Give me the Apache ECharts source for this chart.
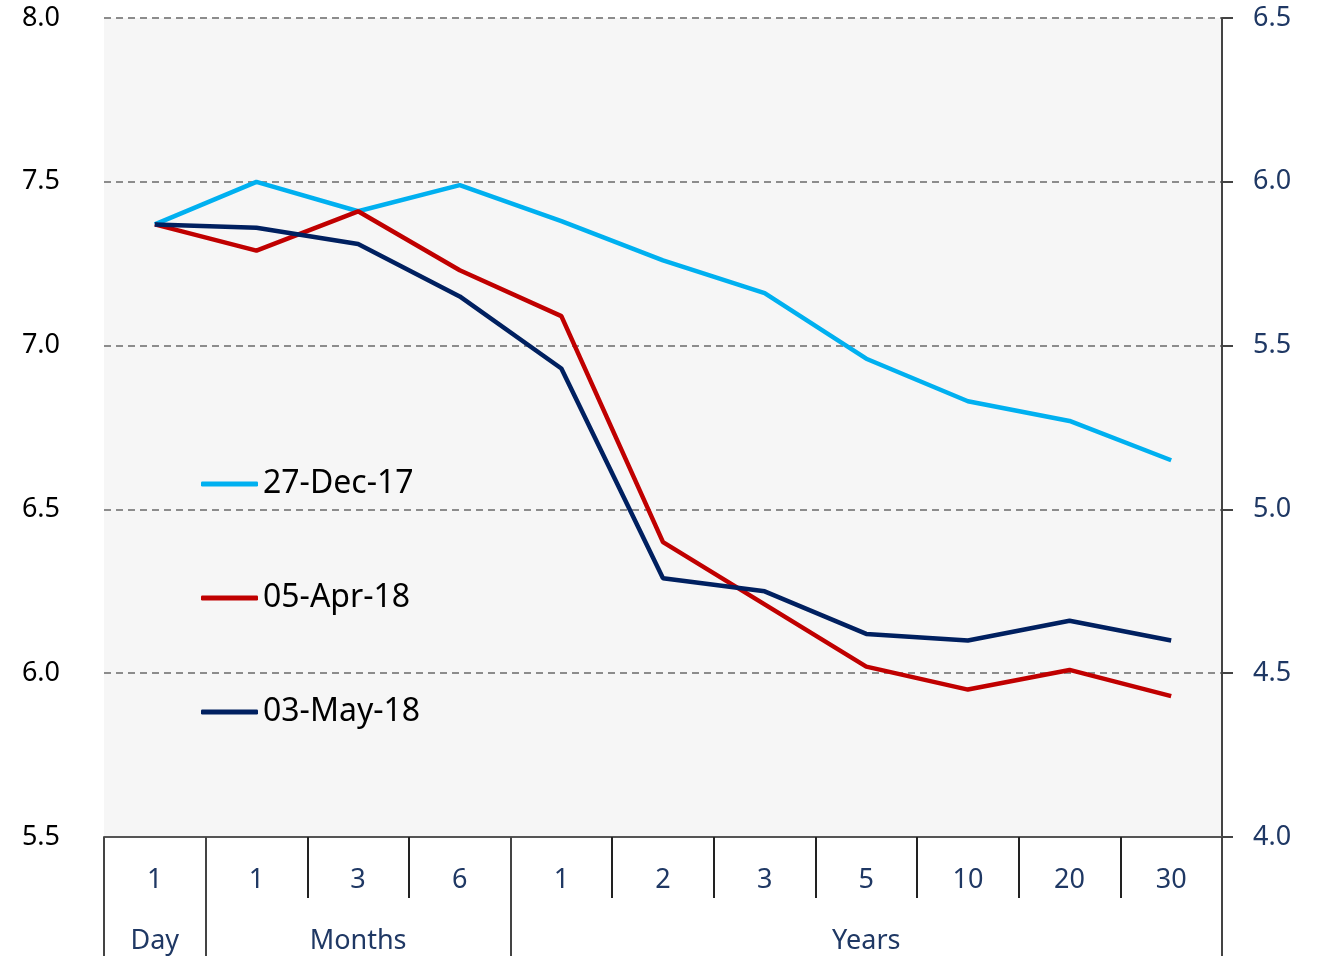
<!DOCTYPE html>
<html>
<head>
	<meta charset="utf-8">
	<title>Yield curve</title>
	<script src="https://cdn.jsdelivr.net/npm/echarts@6/dist/echarts.min.js"></script>
	<style>
		html, body { margin: 0; padding: 0; background: #fff; }
	</style>
</head>
<body>
	<div id="main" style="width: 1317px; height: 956px;"></div>
	<script type="text/javascript">
		// tenors (first row) and group labels (second row)
		var tenors = ['1', '1', '3', '6', '1', '2', '3', '5', '10', '20', '30'];
		var groups = ['Day', '', 'Months', '', '', '', '', 'Years', '', '', ''];
		// group boundaries (index of first category in each group)
		var groupStarts = [0, 1, 4];

		var seriesNames = ['27-Dec-17', '05-Apr-18', '03-May-18'];
		var dec17 = [7.37, 7.50, 7.41, 7.49, 7.38, 7.26, 7.16, 6.96, 6.83, 6.77, 6.65];
		var apr18 = [7.37, 7.29, 7.41, 7.23, 7.09, 6.40, 6.21, 6.02, 5.95, 6.01, 5.93];
		var may18 = [7.37, 7.36, 7.31, 7.15, 6.93, 6.29, 6.25, 6.12, 6.10, 6.16, 6.10];

		var chart = echarts.init(document.getElementById('main'));
		var font = "'Noto Sans', 'Open Sans', sans-serif";
		var navy = '#1f3864';

		var option = {
			backgroundColor: '#fff',
			animation: false,
			textStyle: { fontFamily: font },
			grid: {
				left: 104,
				right: 95,
				top: 18,
				bottom: 119,
				show: true,
				backgroundColor: '#f6f6f6',
				borderWidth: 0
			},
			legend: {
				orient: 'vertical',
				left: 201,
				top: 467,
				padding: 0,
				itemGap: 80,
				itemWidth: 57,
				itemHeight: 5,
				icon: 'roundRect',
				textStyle: {
					color: '#000',
					fontSize: 32,
					lineHeight: 34,
					fontFamily: font
				},
				data: seriesNames
			},
			xAxis: [{
				type: 'category',
				data: tenors,
				position: 'bottom',
				axisLine: { show: true, lineStyle: { color: '#555', width: 2 } },
				axisTick: {
					show: true,
					interval: 0,
					inside: false,
					length: 61,
					lineStyle: { color: '#222', width: 2 }
				},
				axisLabel: {
					interval: 0,
					margin: 30,
					color: navy,
					fontSize: 27,
					fontFamily: font
				}
			}, {
				type: 'category',
				data: groups,
				position: 'bottom',
				offset: 0,
				axisLine: { show: false },
				axisTick: {
					show: true,
					length: 125,
					interval: function (index) {
						return groupStarts.indexOf(index) >= 0;
					},
					lineStyle: { color: '#444', width: 2 }
				},
				axisLabel: {
					interval: 0,
					margin: 91,
					color: navy,
					fontSize: 27,
					fontFamily: font
				}
			}],
			yAxis: [{
				type: 'value',
				min: 5.5,
				max: 8.0,
				interval: 0.5,
				position: 'left',
				axisLine: { show: false },
				axisTick: { show: false },
				axisLabel: {
					margin: 44,
					color: '#000',
					fontSize: 27,
					fontFamily: font,
					formatter: function (v) { return v.toFixed(1); }
				},
				splitLine: {
					show: true,
					lineStyle: { color: '#8c8c8c', width: 2, type: [7, 5] }
				}
			}, {
				type: 'value',
				min: 4.0,
				max: 6.5,
				interval: 0.5,
				position: 'right',
				axisLine: { show: true, lineStyle: { color: '#444', width: 2 } },
				axisTick: { show: true, length: 11, lineStyle: { color: '#444', width: 2 } },
				axisLabel: {
					margin: 31,
					color: navy,
					fontSize: 27,
					fontFamily: font,
					formatter: function (v) { return v.toFixed(1); }
				},
				splitLine: { show: false }
			}],
			series: [{
				name: seriesNames[0],
				type: 'line',
				data: dec17,
				symbol: 'none',
				lineStyle: { color: '#00b0f0', width: 4.5 },
				itemStyle: { color: '#00b0f0' },
				z: 3
			}, {
				name: seriesNames[1],
				type: 'line',
				data: apr18,
				symbol: 'none',
				lineStyle: { color: '#c00000', width: 4.5 },
				itemStyle: { color: '#c00000' },
				z: 4
			}, {
				name: seriesNames[2],
				type: 'line',
				data: may18,
				symbol: 'none',
				lineStyle: { color: '#002060', width: 4.5 },
				itemStyle: { color: '#002060' },
				z: 5
			}]
		};
		chart.setOption(option);
	</script>
</body>
</html>
